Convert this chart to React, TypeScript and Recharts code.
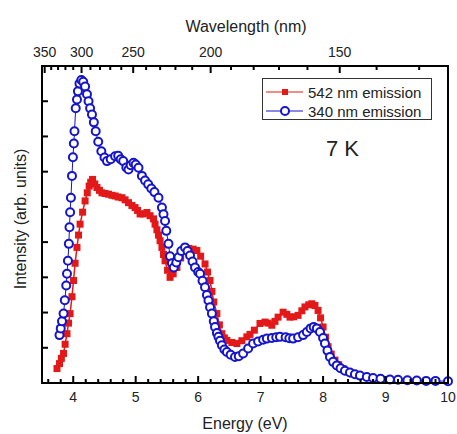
import { ComposedChart, Line, Scatter, XAxis, YAxis } from 'recharts';

const FONT = '"Liberation Sans", Arial, sans-serif';
const RED = '#e31818';
const BLUE = '#1515cc';
const INK = '#222';

// axis ticks
const energyLabels = [4, 5, 6, 7, 8, 9, 10];
const wavelengthLabels = [350, 300, 250, 200, 150];
const wavelengthTicks = [350, 340, 330, 320, 310, 300, 290, 280, 270, 260, 250, 240, 230, 220, 210, 200, 190, 180, 170, 160, 150, 140, 130];
const intensityTicks = [1, 2, 3, 4, 5, 6, 7, 8];

// 340 nm emission (blue circles)
const blueEnergy = [
  3.78, 3.8, 3.82, 3.845, 3.865, 3.888, 3.9, 3.915, 3.93, 3.94, 3.95, 3.963, 3.98, 3.995, 4.01, 4.02, 4.04, 4.06, 4.075,
  4.1, 4.13, 4.16, 4.19, 4.22, 4.245, 4.27, 4.3, 4.33, 4.36, 4.4, 4.45, 4.5, 4.54, 4.6, 4.67, 4.72, 4.76, 4.8, 4.85,
  4.885, 4.92, 4.965, 5.0, 5.045, 5.1, 5.15, 5.2, 5.25, 5.3, 5.365, 5.42, 5.445, 5.47, 5.49, 5.525, 5.55, 5.58, 5.61,
  5.65, 5.685, 5.73, 5.79, 5.83, 5.87, 5.91, 5.95, 6.0, 6.03, 6.07, 6.11, 6.14, 6.165, 6.19, 6.22, 6.25, 6.27, 6.3,
  6.325, 6.35, 6.38, 6.42, 6.46, 6.52, 6.59, 6.65, 6.72, 6.8, 6.88, 6.96, 7.04, 7.1, 7.18, 7.25, 7.31, 7.4, 7.46, 7.52,
  7.6, 7.68, 7.74, 7.8, 7.85, 7.9, 7.95, 8.0, 8.03, 8.07, 8.11, 8.16, 8.22, 8.28, 8.35, 8.43, 8.51, 8.59, 8.7, 8.8,
  8.92, 9.07, 9.2, 9.35, 9.5, 9.65, 9.8, 10.0,
];
const blueIntensity = [
  1.36, 1.55, 1.75, 1.97, 2.35, 2.77, 3.1, 3.47, 3.95, 4.42, 4.85, 5.26, 5.88, 6.41, 6.8, 7.15, 7.8, 8.05, 8.28,
  8.5, 8.6, 8.55, 8.42, 8.2, 8.0, 7.8, 7.62, 7.4, 7.15, 6.85, 6.58, 6.4, 6.3, 6.35, 6.44, 6.45, 6.35, 6.3, 6.12,
  6.06, 6.18, 6.25, 6.2, 6.11, 5.88, 5.75, 5.64, 5.52, 5.42, 5.26, 4.98, 4.79, 4.6, 4.32, 3.95, 3.6, 3.4, 3.28,
  3.42, 3.57, 3.75, 3.85, 3.75, 3.62, 3.45, 3.28, 3.15, 3.1, 2.9, 2.72, 2.5, 2.34, 2.15, 1.97, 1.75, 1.59, 1.42,
  1.31, 1.2, 1.07, 0.95, 0.88, 0.8, 0.74, 0.76, 0.84, 0.98, 1.12, 1.18, 1.23, 1.26, 1.28, 1.3, 1.31, 1.3, 1.27, 1.26,
  1.3, 1.36, 1.45, 1.55, 1.59, 1.55, 1.45, 1.28, 1.12, 0.92, 0.74, 0.6, 0.5, 0.42, 0.35, 0.3, 0.25, 0.21, 0.17, 0.14,
  0.12, 0.1, 0.09, 0.08, 0.07, 0.06, 0.06, 0.05,
];

// 542 nm emission (red squares)
const redEnergy = [
  3.74, 3.78, 3.81, 3.845, 3.87, 3.9, 3.925, 3.95, 3.98, 4.005, 4.03, 4.06, 4.085, 4.11, 4.15, 4.19, 4.225, 4.255,
  4.28, 4.31, 4.345, 4.38, 4.42, 4.46, 4.51, 4.565, 4.62, 4.67, 4.72, 4.78, 4.83, 4.885, 4.94, 4.99, 5.03, 5.07, 5.12,
  5.18, 5.23, 5.285, 5.31, 5.34, 5.365, 5.39, 5.42, 5.445, 5.47, 5.51, 5.55, 5.6, 5.66, 5.72, 5.79, 5.85, 5.92, 5.98,
  6.04, 6.11, 6.15, 6.19, 6.22, 6.25, 6.3, 6.34, 6.38, 6.42, 6.46, 6.54, 6.62, 6.7, 6.78, 6.83, 6.9, 6.99, 7.07, 7.12,
  7.18, 7.23, 7.28, 7.36, 7.42, 7.47, 7.53, 7.6, 7.66, 7.71, 7.77, 7.82, 7.87, 7.92, 7.96, 8.0, 8.04, 8.08, 8.13, 8.19,
  8.25, 8.32, 8.4, 8.47,
];
const redIntensity = [
  0.41, 0.55, 0.7, 0.84, 1.1, 1.4, 1.7, 1.97, 2.45, 2.91, 3.4, 3.85, 4.2, 4.51, 4.85, 5.17, 5.4, 5.59,
  5.7, 5.78, 5.65, 5.55, 5.47, 5.4, 5.38, 5.36, 5.33, 5.31, 5.28, 5.26, 5.2, 5.12, 5.04, 4.98, 4.9, 4.8, 4.8,
  4.84, 4.75, 4.66, 4.51, 4.35, 4.2, 4.04, 3.85, 3.65, 3.47, 3.2, 3.0, 3.1, 3.28, 3.55, 3.8, 3.82, 3.8, 3.76,
  3.6, 3.38, 3.15, 2.91, 2.6, 2.3, 1.97, 1.65, 1.4, 1.28, 1.21, 1.15, 1.12, 1.2, 1.31, 1.38, 1.5, 1.69, 1.73, 1.7,
  1.64, 1.75, 1.87, 2.01, 1.95, 1.87, 1.88, 1.92, 2.05, 2.16, 2.22, 2.25, 2.2, 2.06, 1.85, 1.59, 1.3, 1.03, 0.82, 0.65,
  0.52, 0.41, 0.32, 0.26,
];

const blueData = blueEnergy.map((e, i) => ({ e, v: blueIntensity[i] }));
const redData = redEnergy.map((e, i) => ({ e, v: redIntensity[i] }));

const energyTicks = Array.from({ length: 33 }, (_, i) => Math.round((3.6 + 0.2 * i) * 10) / 10);
const topTicks = wavelengthTicks.map((w) => 1240 / w);

// tick marks placed on the plot edges through the chart scales
const bottomMarks = energyTicks.map((e) => ({ e, v: 0, major: energyLabels.includes(e) }));
const topMarks = wavelengthTicks.map((w, i) => ({ e: topTicks[i], v: 9, major: wavelengthLabels.includes(w) }));

function BottomMark(p: any) {
  const len = p.payload.major ? 7 : 4;
  return <path d={`M${p.cx},${p.cy}V${p.cy - len}`} stroke="#000" strokeWidth={2} fill="none" />;
}

function TopMark(p: any) {
  const len = p.payload.major ? 7 : 4;
  return <path d={`M${p.cx},${p.cy}V${p.cy + len}`} stroke="#000" strokeWidth={2} fill="none" />;
}

// custom tick labels: x / y arrive on the axis line because tickSize and tickMargin are 0
function BottomTick({ x, y, payload }: any) {
  if (!energyLabels.includes(payload.value)) return <g />;
  return (
    <text x={x} y={y + 19} textAnchor="middle" fontSize={14} fontFamily={FONT} fill={INK}>
      {payload.value}
    </text>
  );
}

function TopTick({ x, y, payload }: any) {
  const w = Math.round(1240 / payload.value);
  if (!wavelengthLabels.includes(w)) return <g />;
  return (
    <text x={x} y={y - 9} textAnchor="middle" fontSize={14} fontFamily={FONT} fill={INK}>
      {w}
    </text>
  );
}

function LeftTick({ x, y }: any) {
  return <path d={`M${x},${y}H${x + 6}`} stroke="#000" strokeWidth={2} fill="none" />;
}

function RedSquare(p: any) {
  return <rect key={`r${p.index}`} x={p.cx - 3.5} y={p.cy - 3.5} width={7} height={7} fill={RED} />;
}

const title: React.CSSProperties = {
  position: 'absolute',
  transform: 'translate(-50%, -50%)',
  whiteSpace: 'nowrap',
  fontSize: 16,
  color: INK,
};

export default function App() {
  return (
    <div style={{ position: 'absolute', left: 0, top: 0, width: 457, height: 434, background: '#fff', fontFamily: FONT }}>
      <ComposedChart width={457} height={434} margin={{ top: 0, right: 9, bottom: 0, left: 0 }}>
        <XAxis
          dataKey="e"
          type="number"
          domain={[3.5, 10]}
          ticks={energyTicks}
          interval={0}
          height={51}
          axisLine={false}
          tickLine={false}
          tickSize={0}
          tickMargin={0}
          tick={<BottomTick />}
        />
        <XAxis
          xAxisId="top"
          orientation="top"
          dataKey="e"
          type="number"
          domain={[3.5, 10]}
          ticks={topTicks}
          interval={0}
          height={66}
          axisLine={false}
          tickLine={false}
          tickSize={0}
          tickMargin={0}
          tick={<TopTick />}
        />
        <YAxis
          type="number"
          domain={[0, 9]}
          ticks={intensityTicks}
          interval={0}
          width={42}
          axisLine={false}
          tickLine={false}
          tickSize={0}
          tickMargin={0}
          tick={<LeftTick />}
        />

        {/* invisible series binds the wavelength axis */}
        <Line data={blueData} dataKey="v" xAxisId="top" stroke="none" dot={false} activeDot={false} isAnimationActive={false} />
        <Line data={redData} dataKey="v" type="linear" stroke={RED} strokeWidth={1.5} dot={RedSquare} isAnimationActive={false} />
        <Line
          data={blueData}
          dataKey="v"
          type="linear"
          stroke={BLUE}
          strokeWidth={1}
          dot={{ r: 4, stroke: BLUE, strokeWidth: 2, fill: '#fff' }}
          isAnimationActive={false}
        />
        <Scatter data={bottomMarks} dataKey="v" shape={BottomMark} isAnimationActive={false} legendType="none" />
        <Scatter data={topMarks} dataKey="v" shape={TopMark} isAnimationActive={false} legendType="none" />
      </ComposedChart>

      {/* plot frame */}
      <div
        style={{
          position: 'absolute',
          left: 41,
          top: 65,
          width: 408,
          height: 319,
          boxSizing: 'border-box',
          border: '2px solid #000',
          pointerEvents: 'none',
        }}
      />

      <div style={{ ...title, left: 246, top: 27 }}>Wavelength (nm)</div>
      <div style={{ ...title, left: 245, top: 424 }}>Energy (eV)</div>
      <div style={{ ...title, left: 21, top: 219, transform: 'translate(-50%, -50%) rotate(-90deg)' }}>Intensity (arb. units)</div>

      <div
        style={{
          position: 'absolute',
          left: 262,
          top: 78,
          width: 170,
          height: 42,
          boxSizing: 'border-box',
          border: '1px solid #333',
          background: '#fff',
          fontSize: 15,
          color: INK,
        }}
      >
        <div style={{ position: 'absolute', left: 2, top: 4, display: 'flex', alignItems: 'center', height: 18 }}>
          <svg width={40} height={18}>
            <line x1={1} x2={38} y1={9} y2={9} stroke={RED} strokeWidth={1} />
            <rect x={17} y={6} width={6} height={6} fill={RED} />
          </svg>
          <span style={{ marginLeft: 3 }}>542 nm emission</span>
        </div>
        <div style={{ position: 'absolute', left: 2, top: 23, display: 'flex', alignItems: 'center', height: 18 }}>
          <svg width={40} height={18}>
            <line x1={1} x2={38} y1={9} y2={9} stroke={BLUE} strokeWidth={1} />
            <circle cx={20} cy={9} r={4} stroke={BLUE} strokeWidth={2} fill="#fff" />
          </svg>
          <span style={{ marginLeft: 3 }}>340 nm emission</span>
        </div>
      </div>

      <div style={{ position: 'absolute', left: 326, top: 136, fontSize: 22, color: INK }}>7 K</div>
    </div>
  );
}
